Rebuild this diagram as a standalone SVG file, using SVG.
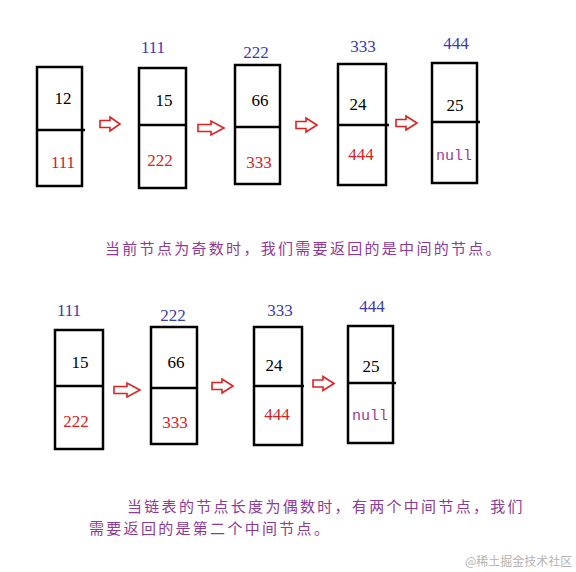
<svg xmlns="http://www.w3.org/2000/svg" width="576" height="572" viewBox="0 0 576 572">
<style>
.box{fill:none;stroke:#000;stroke-width:2.5}
.div{stroke:#000;stroke-width:2.5}
.addr{font-family:"Liberation Serif",serif;font-size:17px;fill:#3b3bb0;text-anchor:middle}
.val{font-family:"Liberation Serif",serif;font-size:17px;fill:#000;text-anchor:middle}
.nxt{font-family:"Liberation Serif",serif;font-size:17px;fill:#d92020;text-anchor:middle}
.nul{font-family:"Liberation Mono",monospace;font-size:15px;fill:#9a3a9e;text-anchor:middle}
.arr{fill:#fff;stroke:#e02020;stroke-width:1.6;stroke-linejoin:miter}
.cap{font-family:"Noto Sans CJK SC",sans-serif;font-size:15px;fill:#8e3a96;letter-spacing:2.3px}
.wm{font-family:"Noto Sans CJK SC",sans-serif;font-size:12px;fill:#b4b4b4}
</style>
<rect width="576" height="572" fill="#fff"/>

<!-- Top row -->
<g id="t1">
<rect class="box" x="37" y="67" width="45" height="119"/>
<line class="div" x1="37" y1="130" x2="85" y2="130"/>
<text class="val" x="63" y="104">12</text>
<text class="nxt" x="63" y="168">111</text>
</g>
<g id="t2">
<text class="addr" x="153" y="53">111</text>
<rect class="box" x="139" y="68" width="47" height="120"/>
<line class="div" x1="139" y1="125" x2="186" y2="125"/>
<text class="val" x="164" y="106">15</text>
<text class="nxt" x="160" y="166">222</text>
</g>
<g id="t3">
<text class="addr" x="256" y="58">222</text>
<rect class="box" x="235" y="65" width="45" height="119"/>
<line class="div" x1="235" y1="127" x2="280" y2="127"/>
<text class="val" x="260" y="106">66</text>
<text class="nxt" x="259" y="168">333</text>
</g>
<g id="t4">
<text class="addr" x="363" y="52">333</text>
<rect class="box" x="338" y="64" width="48" height="121"/>
<line class="div" x1="338" y1="125" x2="389" y2="125"/>
<text class="val" x="358" y="110">24</text>
<text class="nxt" x="361" y="160">444</text>
</g>
<g id="t5">
<text class="addr" x="456" y="49">444</text>
<rect class="box" x="432" y="63" width="45" height="120"/>
<line class="div" x1="432" y1="122" x2="480" y2="122"/>
<text class="val" x="455" y="111">25</text>
<text class="nul" x="454" y="160">null</text>
</g>

<!-- Bottom row -->
<g id="b1">
<text class="addr" x="69" y="316">111</text>
<rect class="box" x="55" y="330" width="48" height="119"/>
<line class="div" x1="55" y1="386" x2="103" y2="386"/>
<text class="val" x="80" y="368">15</text>
<text class="nxt" x="76" y="427">222</text>
</g>
<g id="b2">
<text class="addr" x="173" y="321">222</text>
<rect class="box" x="151" y="327" width="46" height="117"/>
<line class="div" x1="151" y1="388" x2="197" y2="388"/>
<text class="val" x="176" y="368">66</text>
<text class="nxt" x="175" y="428">333</text>
</g>
<g id="b3">
<text class="addr" x="280" y="316">333</text>
<rect class="box" x="254" y="327" width="48" height="118"/>
<line class="div" x1="254" y1="386" x2="304" y2="386"/>
<text class="val" x="274" y="371">24</text>
<text class="nxt" x="277" y="420">444</text>
</g>
<g id="b4">
<text class="addr" x="372" y="312">444</text>
<rect class="box" x="348" y="326" width="45" height="117"/>
<line class="div" x1="348" y1="383" x2="396" y2="383"/>
<text class="val" x="371" y="372">25</text>
<text class="nul" x="370" y="420">null</text>
</g>

<g id="connectors">
<path class="arr" d="M100,120.5 H110 V117 L120,124 L110,131 V127.5 H100 Z"/>
<path class="arr" d="M198,124.5 H211 V121 L224,128 L211,135 V131.5 H198 Z"/>
<path class="arr" d="M296,121.5 H306 V118 L317,125 L306,132 V128.5 H296 Z"/>
<path class="arr" d="M396,119.5 H406 V116 L417,123 L406,130 V126.5 H396 Z"/>
<path class="arr" d="M114,386.5 H127 V383 L140,390 L127,397 V393.5 H114 Z"/>
<path class="arr" d="M212,382.5 H222 V379 L233,386 L222,393 V389.5 H212 Z"/>
<path class="arr" d="M313,380 H323 V376.5 L334,383.5 L323,390.5 V387 H313 Z"/>
</g>

<text class="cap" x="105" y="254">当前节点为奇数时，我们需要返回的是中间的节点。</text>
<text class="cap" x="127" y="512">当链表的节点长度为偶数时，有两个中间节点，我们</text>
<text class="cap" x="89" y="534">需要返回的是第二个中间节点。</text>
<text class="wm" x="465" y="566">@稀土掘金技术社区</text>
</svg>
